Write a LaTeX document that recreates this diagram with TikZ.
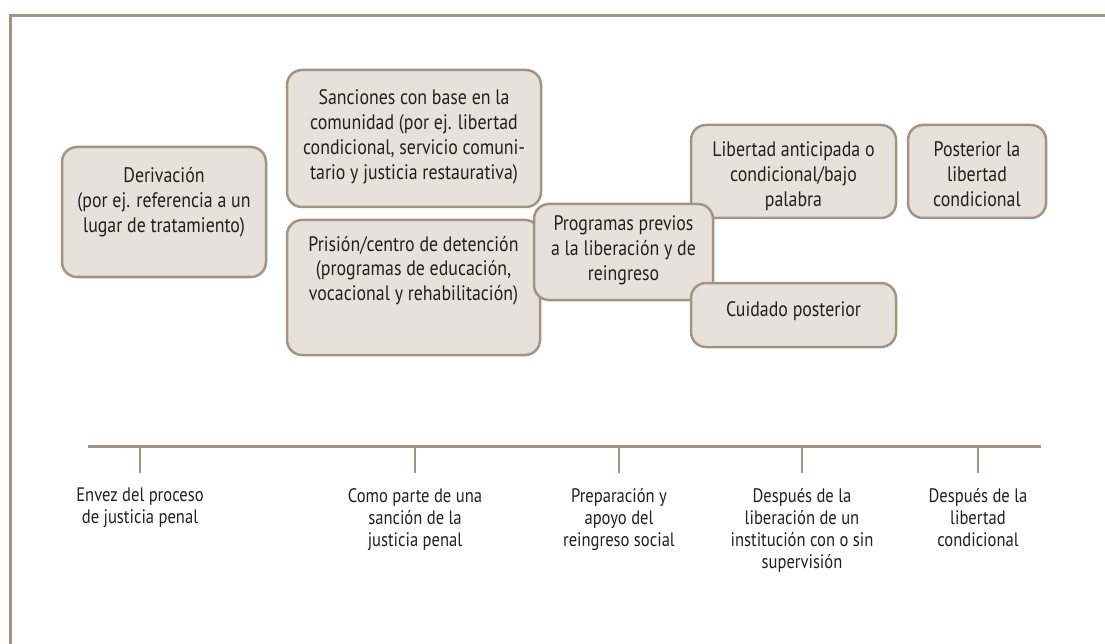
\documentclass[tikz,border=0pt]{standalone}
\usepackage{fontspec}
\setmainfont{PT Sans}[FakeStretch=0.85]
\usetikzlibrary{positioning}
\definecolor{rim}{HTML}{A39383}
\definecolor{paper}{HTML}{E6E1DB}
\definecolor{ink}{HTML}{231F20}
\newcommand{\stagetext}[4]{\parbox[c][#1][t]{#2}{\centering\rule{0pt}{#3}#4}}
\tikzset{
  stage/.style={draw=rim, fill=paper, line width=2.5pt, rounded corners=15pt,
    inner sep=0pt, text=ink, font=\fontsize{21}{24.8}\selectfont},
  when/.style={align=center, text=ink, inner sep=0pt, font=\fontsize{19.5}{22}\selectfont},
  axis/.style={draw=rim, line width=3pt},
  tick/.style={draw=rim, line width=1.8pt}
}
\begin{document}
\begin{tikzpicture}[x=1pt,y=-1pt]
\useasboundingbox (0,0) rectangle (1105,644);
\draw[axis] (1105,16) -- (10,16) -- (10,644);

\node[stage] (deriv) at (164,212) {\stagetext{130pt}{204pt}{36pt}{Derivación\\(por ej. referencia a un\\lugar de tratamiento)}};
\node[stage] (sanc) at (414,138.5) {\stagetext{137pt}{254pt}{35pt}{Sanciones con base en la\\comunidad (por ej. libertad\\condicional, servicio comuni-\\tario y justicia restaurativa)}};
\node[stage] (prision) at (413.5,287.5) {\stagetext{135pt}{253pt}{31pt}{Prisión/centro de detención\\(programas de educación,\\vocacional y rehabilitación)}};
\node[stage] (antic) at (793.5,171.5) {\stagetext{93pt}{205pt}{32pt}{Libertad anticipada o\\condicional/bajo\\palabra}};
\node[stage] (poster) at (977,171.5) {\stagetext{93pt}{138pt}{32pt}{Posterior la\\libertad\\condicional}};
\node[stage] (previos) at (623.5,252) {\stagetext{96pt}{179pt}{27pt}{Programas previos\\a la liberación y de\\reingreso}};
\node[stage] (cuidado) at (793.5,315) {\stagetext{64pt}{205pt}{33pt}{Cuidado posterior}};

% linea de tiempo con sus marcas
\coordinate (tlstart) at (88,446);
\coordinate (tlend) at (1041,446);
\draw[axis] (tlstart) -- (tlend);
\foreach \x/\n in {140/1,415/2,619/3,802/4,978/5}{
    \coordinate (top\n) at (\x,446);
    \coordinate (tick\n) at (\x,473);
    \draw[tick] (top\n) -- (tick\n);
}
\node[when, below=15pt of tick1] (w1) {Envez del proceso\\de justicia penal};
\node[when, below=15pt of tick2] (w2) {Como parte de una\\sanción de la\\justicia penal};
\node[when, below=15pt of tick3] (w3) {Preparación y\\apoyo del\\reingreso social};
\node[when, below=15pt of tick4] (w4) {Después de la\\liberación de un\\institución con o sin\\supervisión};
\node[when, below=15pt of tick5] (w5) {Después de la\\libertad\\condicional};
\end{tikzpicture}
\end{document}
